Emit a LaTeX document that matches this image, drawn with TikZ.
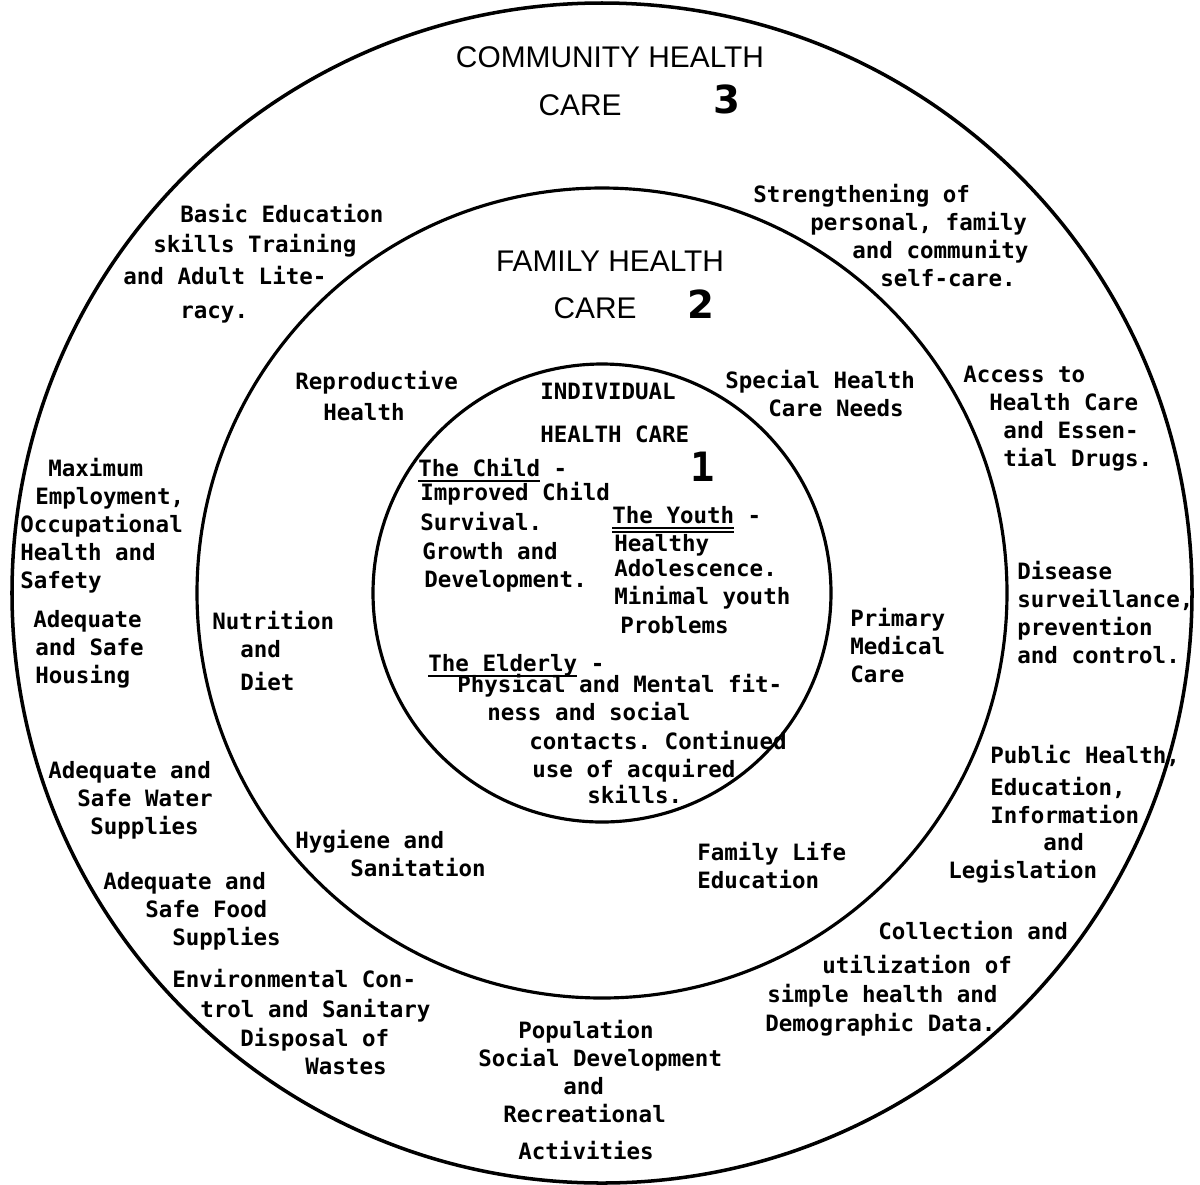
\documentclass[tikz,border=0pt]{standalone}
\usepackage{fontspec}
\setmainfont{Liberation Sans}
\newfontfamily\twfont{DejaVu Sans Mono}
\newfontfamily\numfont{DejaVu Sans}
\newcommand{\bodyfont}{\twfont\bfseries\fontsize{12.8}{15.9}\selectfont\frenchspacing}
% indent in picture pixels (1px = 0.02cm)
\newcommand{\ind}[1]{\hspace*{#1\dimexpr0.02cm\relax}}
\newcommand{\uln}[1]{\setbox0\hbox{#1}\rlap{\rule[-3pt]{\wd0}{1.1pt}}\box0\relax}
\newcommand{\ulln}[1]{\setbox0\hbox{#1}\rlap{\rule[-3pt]{\wd0}{1.1pt}}\rlap{\rule[-5.2pt]{\wd0}{1.1pt}}\box0\relax}

\begin{document}
\begin{tikzpicture}[x=0.02cm, y=-0.02cm]
  \tikzset{
    ring/.style={draw, line width=1.8pt},
    blurb/.style={font=\bodyfont, align=left, anchor=north west, inner sep=0pt},
    heading/.style={font=\fontsize{17}{20}\selectfont, anchor=base, inner sep=0pt},
    level/.style={font=\numfont\bfseries\fontsize{22}{24}\selectfont, anchor=base, inner sep=0pt}
  }
  \useasboundingbox (0,0) rectangle (1200,1184);
  \coordinate (hub) at (602,593);

  % --- the three circles ---
  \draw[ring, line width=2pt] (hub) circle[radius=590];
  \draw[ring] (hub) circle[radius=405];
  \draw[ring] (hub) circle[radius=229];

  % --- RING 3: Community health care ---
  \node[heading] (comm) at (610,67) {COMMUNITY HEALTH};
  \node[heading] (commcare) at (580,115) {CARE};
  \node[level] (three) at (727,113) {3};

  \node[blurb] (basic) at (123,204) {\ind{57}Basic Education\\[1pt]\ind{30}skills Training\\[2.3pt]and Adult Lite-\\[3.4pt]\ind{57}racy.};
  \node[blurb] (strength) at (753,184) {Strengthening of\\\ind{57}personal, family\\\ind{99}and community\\\ind{127}self-care.};
  \node[blurb] (employ) at (20,458) {\ind{28}Maximum\\\ind{15}Employment,\\Occupational\\Health and\\Safety};
  \node[blurb] (housing) at (33,610) {Adequate\\\ind{2}and Safe\\\ind{2}Housing};
  \node[blurb] (access) at (963,366) {Access to\\\ind{26}Health Care\\\ind{40}and Essen-\\\ind{40}tial Drugs.};
  \node[blurb] (disease) at (1017,561) {Disease\\surveillance,\\prevention\\and control.};
  \node[blurb] (water) at (48,761) {Adequate and\\\ind{29}Safe Water\\\ind{42}Supplies};
  \node[blurb] (public) at (948,745) {\ind{42}Public Health,\\[2pt]\ind{42}Education,\\\ind{42}Information\\\ind{95}and\\Legislation};
  \node[blurb] (food) at (103,872) {Adequate and\\\ind{42}Safe Food\\\ind{69}Supplies};
  \node[blurb] (collect) at (765,921) {\ind{113}Collection and\\[3.4pt]\ind{57}utilization of\\[0.5pt]\ind{2}simple health and\\[0.5pt]Demographic Data.};
  \node[blurb] (environ) at (172,969) {Environmental Con-\\[1pt]\ind{28}trol and Sanitary\\[0.5pt]\ind{68}Disposal of\\\ind{133}Wastes};
  \node[blurb] (popul) at (478,1020) {\ind{40}Population\\\ind{0}Social Development\\\ind{85}and\\\ind{25}Recreational\\[5pt]\ind{40}Activities};

  % --- RING 2: Family health care ---
  \node[heading] (family) at (610,271) {FAMILY HEALTH};
  \node[heading] (familycare) at (595,318) {CARE};
  \node[level] (two) at (701,318) {2};

  \node[blurb] (reprod) at (295,371) {Reproductive\\[1.7pt]\ind{28}Health};
  \node[blurb] (special) at (725,370) {Special Health\\\ind{43}Care Needs};
  \node[blurb] (nutri) at (212,611) {Nutrition\\\ind{28}and\\[2.8pt]\ind{28}Diet};
  \node[blurb] (primary) at (850,608) {Primary\\Medical\\Care};
  \node[blurb] (hygiene) at (295,830) {Hygiene and\\\ind{55}Sanitation};
  \node[blurb] (famlife) at (697,842) {Family Life\\Education};

  % --- RING 1: Individual health care ---
  \node[blurb] (indiv) at (540,383) {INDIVIDUAL\\[8.5pt]HEALTH CARE};
  \node[level, font=\twfont\bfseries\fontsize{23}{24}\selectfont] (one) at (703,481) {1};

  \node[blurb] (child) at (418,458) {\uln{The Child} -\\[-2.3pt]\ind{2}Improved Child\\[1pt]\ind{2}Survival.\\[0.5pt]\ind{4}Growth and\\[0.5pt]\ind{6}Development.};
  \node[blurb] (youth) at (612,506) {\ulln{The Youth} -\\\ind{2}Healthy\\[-1.5pt]\ind{2}Adolescence.\\\ind{2}Minimal youth\\[0.5pt]\ind{8}Problems};
  \node[blurb] (elderly) at (428,654) {\uln{The Elderly} -\\[-4pt]\ind{29}Physical and Mental fit-\\\ind{59}ness and social\\[0.5pt]\ind{101}contacts. Continued\\\ind{104}use of acquired\\[-1pt]\ind{159}skills.};
\end{tikzpicture}
\end{document}
